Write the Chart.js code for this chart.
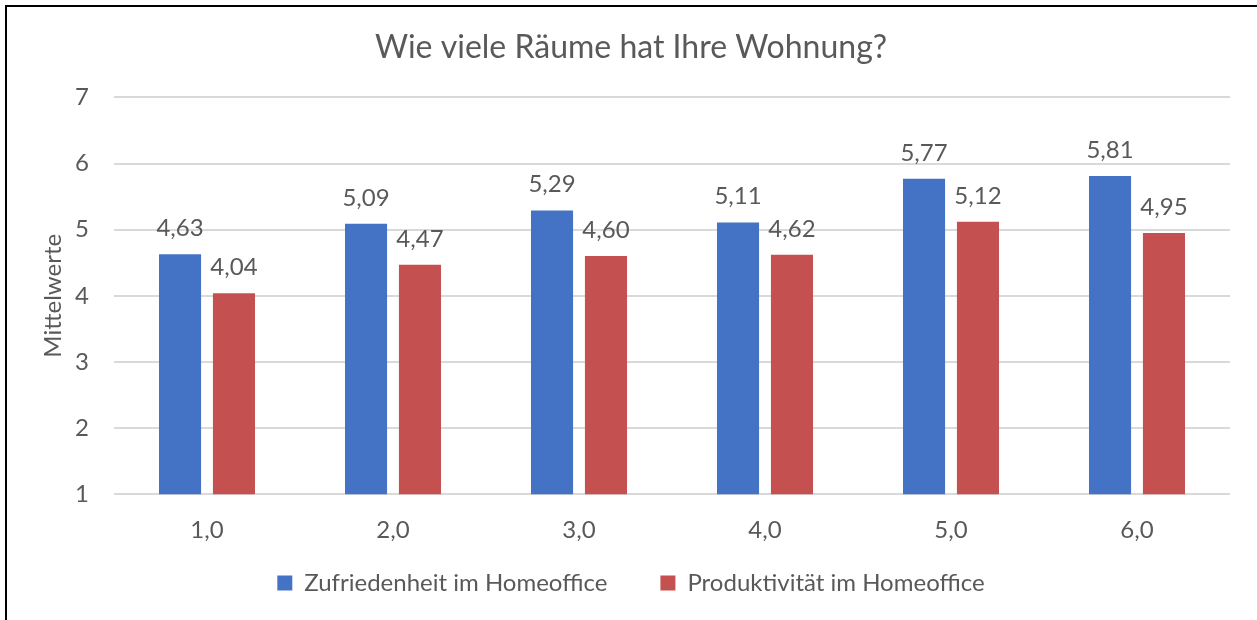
<!DOCTYPE html>
<html>
<head>
<meta charset="utf-8">
<script src="https://cdn.jsdelivr.net/npm/chart.js@4"></script>
<style>
  html, body { margin: 0; padding: 0; background: #fff; overflow: hidden; }
  #frame { position: absolute; left: 5px; top: 5px; width: 1400px; height: 800px; border: 2px solid #000; }
  #c { position: absolute; left: 0; top: 0; }
</style>
</head>
<body>
<div id="frame"></div>
<canvas id="c" width="1257" height="620"></canvas>
<script>
// Number of rooms (x categories)
const rooms = [1, 2, 3, 4, 5, 6];
// Mean scores per room count
const satisfaction = [4.63, 5.09, 5.29, 5.11, 5.77, 5.81];
const productivity = [4.04, 4.47, 4.60, 4.62, 5.12, 4.95];
const seriesNames = ['Zufriedenheit im Homeoffice', 'Produktivität im Homeoffice'];
const yTicks = [1, 2, 3, 4, 5, 6, 7];

const FONT = 'Lato';
const TEXT = '#595959';
const de = (v, d) => v.toFixed(d).replace('.', ',');

// Value labels above each bar
const valueLabels = {
  id: 'valueLabels',
  afterDatasetsDraw(chart) {
    const ctx = chart.ctx;
    ctx.save();
    ctx.font = '24px ' + FONT;
    ctx.fillStyle = TEXT;
    ctx.textAlign = 'center';
    ctx.textBaseline = 'alphabetic';
    chart.data.datasets.forEach((ds, i) => {
      chart.getDatasetMeta(i).data.forEach((bar, j) => {
        ctx.fillText(de(ds.data[j], 2), bar.x, bar.y - 18);
      });
    });
    ctx.restore();
  }
};

// Pull the legend row up closer to the axis labels
const legendLift = {
  id: 'legendLift',
  afterLayout(chart) {
    const lg = chart.legend;
    if (lg) { lg.top -= 41; lg.bottom -= 41; }
  }
};

new Chart(document.getElementById('c'), {
  type: 'bar',
  data: {
    labels: rooms.map(r => de(r, 1)),
    datasets: [
      { label: seriesNames[0], data: satisfaction, backgroundColor: '#4472C4' },
      { label: seriesNames[1], data: productivity, backgroundColor: '#C55050' }
    ]
  },
  options: {
    responsive: false,
    devicePixelRatio: 1,
    animation: false,
    categoryPercentage: 0.58,
    barPercentage: 0.78,
    layout: { padding: { left: 32, right: 27, top: 0, bottom: -26 } },
    plugins: {
      tooltip: { enabled: false },
      title: {
        display: true,
        text: 'Wie viele Räume hat Ihre Wohnung?',
        color: TEXT,
        font: { family: FONT, size: 32, weight: 'normal' },
        padding: { top: 28, bottom: 31 }
      },
      legend: {
        position: 'bottom',
        labels: {
          color: TEXT,
          font: { family: FONT, size: 24 },
          boxWidth: 15,
          boxHeight: 15,
          padding: 53
        }
      }
    },
    scales: {
      x: {
        grid: { display: false },
        border: { display: false },
        ticks: { color: TEXT, font: { family: FONT, size: 24 }, padding: 14 }
      },
      y: {
        min: 1,
        max: 7,
        afterFit(scale) { scale.width = 82; },
        afterBuildTicks(scale) { scale.ticks = yTicks.map(v => ({ value: v })); },
        grid: { color: '#D9D9D9', lineWidth: 2, drawTicks: false },
        border: { display: false },
        ticks: { color: TEXT, font: { family: FONT, size: 24 }, padding: 25, callback: v => String(v) },
        title: {
          display: true,
          text: 'Mittelwerte',
          color: TEXT,
          font: { family: FONT, size: 24 },
          padding: { top: 7, bottom: 0 }
        }
      }
    }
  },
  plugins: [valueLabels, legendLift]
});
</script>
</body>
</html>
